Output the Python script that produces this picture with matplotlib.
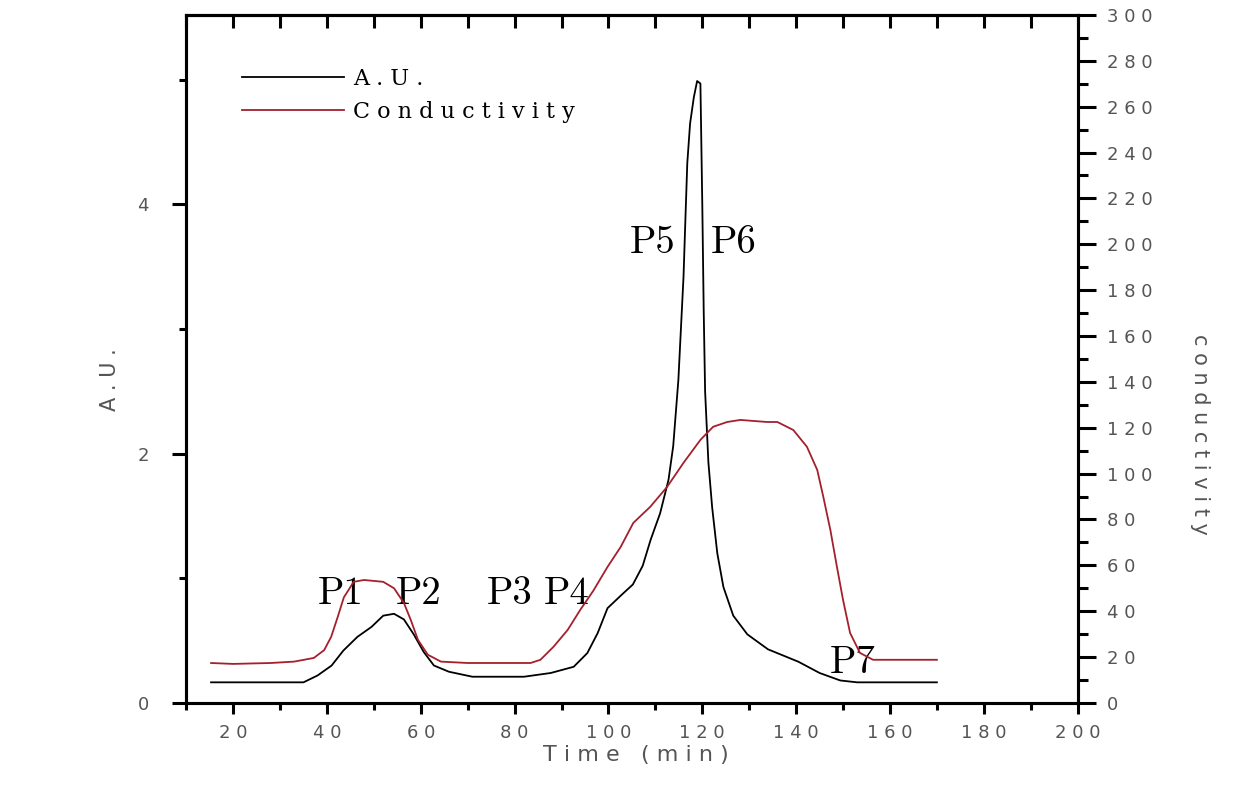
import numpy as np
import matplotlib.pyplot as plt
from matplotlib.ticker import MultipleLocator, FuncFormatter

# absorbance trace (A.U.)
time_au = [15.3, 35, 38, 41, 43.5, 46.5, 49.5, 52, 54.3, 56.4, 58.5, 60.6, 62.8, 66,
           71, 82, 87.7, 92.6, 95.5, 97.7, 99.8, 102.6, 105.2, 107.3, 109, 111, 112.8,
           113.8, 114.9, 116, 116.4, 116.8, 117.4, 118.2, 118.9, 119.6, 120, 120.3,
           120.6, 121.3, 122.1, 123.2, 124.5, 126.6, 129.6, 134, 140.5, 145, 149.4,
           153, 170]
au = [0.165, 0.165, 0.22, 0.30, 0.42, 0.53, 0.61, 0.70, 0.715, 0.67, 0.55, 0.41, 0.30,
      0.25, 0.21, 0.21, 0.24, 0.29, 0.40, 0.56, 0.76, 0.86, 0.95, 1.10, 1.31, 1.52,
      1.79, 2.06, 2.59, 3.42, 3.88, 4.33, 4.65, 4.86, 4.99, 4.97, 4.0, 3.15, 2.5, 1.93,
      1.57, 1.20, 0.93, 0.70, 0.55, 0.43, 0.33, 0.24, 0.18, 0.165, 0.165]

# conductivity trace
time_cond = [15.3, 20, 28, 33, 37.2, 39.4, 40.9, 42.3, 43.6, 45.7, 47.9, 52, 54.3,
             56.4, 57.9, 59.4, 61.5, 64.3, 70, 83.4, 85.5, 88.3, 91.3, 94, 96.8, 99.8,
             102.6, 105.3, 108.9, 112.5, 116, 119.6, 122.3, 125.3, 128.1, 133.8, 136,
             139.4, 142.3, 144.5, 145.8, 147.3, 148.7, 150, 151.5, 153.6, 156.4, 170]
cond = [17.4, 17.0, 17.4, 18.0, 19.6, 23, 28.8, 37.5, 46, 52.8, 53.6, 52.8, 50, 43.6,
        36, 27.5, 21, 18, 17.4, 17.4, 18.8, 24.5, 31.8, 40.6, 49, 59.3, 68, 78.5, 85.5,
        94.2, 104.7, 114.7, 120.4, 122.5, 123.4, 122.5, 122.5, 119, 111.7, 101.6, 89.8,
        75.4, 59.3, 44.9, 30.5, 21.8, 18.8, 18.8]

peak_names = ['P1', 'P2', 'P3', 'P4', 'P5', 'P6', 'P7']
peak_x = [43, 59.6, 79, 91, 109.4, 126.6, 152]
peak_y = [0.87, 0.87, 0.87, 0.87, 3.69, 3.69, 0.32]

x_ticks = [20, 40, 60, 80, 100, 120, 140, 160, 180, 200]
au_ticks = [0, 2, 4]
cond_ticks = list(range(0, 301, 20))

red = '#a3202c'
gray = '#555555'
spaced = FuncFormatter(lambda v, p: ' '.join(str(int(round(v)))))

fig = plt.figure(figsize=(12.33, 7.88), dpi=100)
ax = fig.add_axes([0.151, 0.108, 0.723, 0.873])
ax2 = ax.twinx()

l1, = ax.plot(time_au, au, color='black', lw=1.3, label='A . U .')
l2, = ax2.plot(time_cond, cond, color=red, lw=1.3, label='C o n d u c t i v i t y')

ax.set_xlim(10, 200)
ax.set_ylim(0, 5.52)
ax2.set_ylim(0, 300)

ax.set_xticks(x_ticks)
ax.xaxis.set_minor_locator(MultipleLocator(10))
ax.set_yticks(au_ticks)
ax.yaxis.set_minor_locator(MultipleLocator(1))
ax2.set_yticks(cond_ticks)
ax2.yaxis.set_minor_locator(MultipleLocator(10))
ax.xaxis.set_major_formatter(spaced)
ax2.yaxis.set_major_formatter(spaced)

for a in (ax, ax2):
    for s in a.spines.values():
        s.set_linewidth(2.2)

ax.tick_params(axis='x', which='major', direction='out', length=8, width=2.2,
               pad=7, labelsize=13, labelcolor=gray)
ax.tick_params(axis='x', which='minor', direction='out', length=5, width=2.2)
ax.tick_params(axis='y', which='major', direction='out', length=10, width=2.2,
               pad=17, labelsize=13, labelcolor=gray)
ax.tick_params(axis='y', which='minor', direction='out', length=5, width=2.2)
ax2.tick_params(axis='y', which='major', direction='out', length=13, width=2.2,
                pad=8, labelsize=13, labelcolor=gray)
ax2.tick_params(axis='y', which='minor', direction='out', length=7, width=2.2)

top = ax.secondary_xaxis('top')
top.set_xticks(np.arange(10, 201, 10))
top.tick_params(direction='in', length=9, width=2.2, labeltop=False)
top.spines['top'].set_linewidth(2.2)

ax.set_xlabel('T i m e   ( m i n )', fontsize=16, color=gray)
ax.xaxis.set_label_coords(0.505, -0.061)
ax.set_ylabel('A . U .', fontsize=15, color=gray)
ax.yaxis.set_label_coords(-0.074, 0.47)
ax2.set_ylabel('c o n d u c t i v i t y', fontsize=15, color=gray, rotation=-90,
               va='center')
ax2.yaxis.set_label_coords(1.137, 0.39)

for name, px, py in zip(peak_names, peak_x, peak_y):
    ax.text(px, py, name, fontsize=28, family='cmr10', ha='center', va='center')

ax.legend(handles=[l1, l2], loc='upper left', bbox_to_anchor=(0.04, 0.952),
          frameon=False, handlelength=4.6, handletextpad=0.4, labelspacing=0.5,
          prop={'family': 'DejaVu Serif', 'size': 16})

fig.savefig('out.png', dpi=100)
